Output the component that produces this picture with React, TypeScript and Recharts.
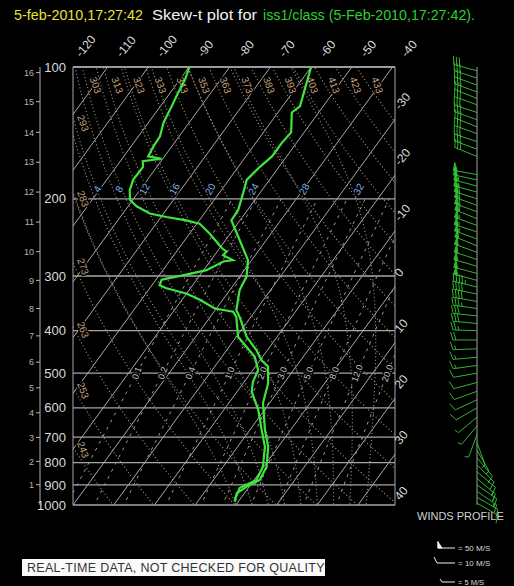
import React from 'react';
import { ComposedChart, Scatter, XAxis, YAxis, CartesianGrid, ReferenceLine } from 'recharts';

// skew of the isotherms: degrees C of shift per decade of pressure
const SKEW = 78.5;
const X_MIN = -40;
const X_MAX = 39.1;

const pressureTicks = [100, 200, 300, 400, 500, 600, 700, 800, 900, 1000];
const kmLevels = [1, 2, 3, 4, 5, 6, 7, 8, 9, 10, 11, 12, 13, 14, 15, 16];
const kmPressures = [899, 795, 701, 616, 540, 472, 411, 356, 307, 264, 226, 193, 165, 141, 120, 103];

const isotherms = [-120, -110, -100, -90, -80, -70, -60, -50, -40, -30, -20, -10, 0, 10, 20, 30, 40];
const topLabels = [-120, -110, -100, -90, -80, -70, -60, -50, -40];
const rightLabels = [-30, -20, -10, 0, 10, 20, 30, 40];
const dryAdiabats = [243, 253, 263, 273, 283, 293, 303, 313, 323, 333, 343, 353, 363, 373, 383, 393, 403, 413, 423, 433];
const moistAdiabats = [0, 4, 8, 12, 16, 20, 24, 28, 32];
const mixingRatios = [0.1, 0.2, 0.4, 1, 2, 3, 5, 8, 12, 20];

// sounding
const tempP = [100, 123, 127, 141, 149, 160, 169, 181, 194, 212, 224, 239, 276, 301, 323, 359, 372, 413, 443, 467, 483, 527, 585, 674, 736, 818, 877, 908, 940, 983];
const tempC = [-60.0, -55.7, -56.6, -53.2, -53.6, -53.6, -54.7, -55.6, -54.1, -52.3, -52.1, -48.6, -40.9, -38.3, -37.6, -34.8, -32.8, -27.5, -22.7, -19.7, -16.9, -13.9, -11.6, -6.3, -2.5, 0.7, 1.4, -0.6, -1.9, -0.8];
const dewP = [100, 107, 115, 123, 134, 144, 152, 160, 162, 164, 169, 181, 191, 201, 208, 216, 220, 224, 228, 240, 248, 259, 264, 269, 276, 278, 291, 299, 306, 315, 320, 329, 340, 356, 362, 372, 413, 459, 492, 523, 551, 607, 674, 736, 818, 877, 915, 974];
const dewC = [-89.9, -88.7, -88.0, -87.2, -86.3, -84.7, -84.5, -84.0, -80.3, -84.5, -83.4, -83.5, -82.5, -80.7, -77.9, -73.4, -68.7, -63.2, -59.3, -55.1, -52.7, -49.5, -47.7, -47.9, -44.6, -46.7, -49.3, -54.2, -58.6, -58.1, -55.9, -50.1, -45.6, -40.4, -35.3, -33.6, -29.6, -21.9, -18.7, -17.9, -16.4, -11.5, -7.1, -3.3, -0.2, 0.6, -2.1, -1.2];

// winds (m/s)
const windP = [102, 106, 110, 114, 118, 122, 127, 132, 137, 142, 148, 154, 160, 176, 181, 187, 193, 200, 207, 214, 222, 230, 238, 247, 256, 265, 275, 285, 296, 307, 318, 330, 343, 356, 370, 385, 400, 420, 440, 460, 480, 500, 525, 550, 575, 600, 630, 660, 690, 720, 750, 780, 810, 840, 870, 900, 930, 960, 990];
const windDir = [285, 288, 290, 290, 292, 290, 288, 290, 292, 290, 288, 290, 292, 280, 282, 285, 285, 288, 290, 290, 292, 290, 288, 290, 292, 290, 288, 286, 285, 285, 284, 282, 280, 278, 276, 275, 272, 270, 268, 265, 262, 260, 255, 250, 245, 240, 230, 220, 200, 160, 150, 140, 135, 130, 130, 125, 125, 120, 120];
const windSpd = [28, 30, 32, 30, 30, 32, 30, 28, 30, 32, 30, 28, 30, 50, 52, 55, 55, 58, 60, 60, 58, 55, 55, 55, 52, 52, 50, 50, 50, 48, 45, 40, 38, 35, 30, 28, 25, 18, 16, 15, 14, 12, 10, 10, 8, 8, 6, 5, 5, 5, 6, 8, 10, 12, 14, 15, 15, 12, 10];

const skewX = (t: number, p: number) => t + SKEW * Math.log10(1000 / p);

const P_STEPS: number[] = [];
for (let p = 1050; p >= 100; p -= 10) P_STEPS.push(p);

const isothermLines = isotherms.map((t) => [
  { x: skewX(t, 1050), p: 1050 },
  { x: skewX(t, 100), p: 100 },
]);

const dryT = (th: number, p: number) => th * Math.pow(p / 1000, 0.2857) - 273.15;
const dryLines = dryAdiabats.map((th) => P_STEPS.map((p) => ({ x: skewX(dryT(th, p), p), p })));

const Rd = 287.04, CP = 1005.7, LV = 2.501e6, EPS = 0.622;
function dTdp(T: number, p: number) {
  const es = 6.112 * Math.exp((17.67 * (T - 273.15)) / (T - 29.65));
  const rs = (EPS * es) / (p - es);
  return (Rd * T + LV * rs) / (p * (CP + (LV * LV * rs * EPS) / (Rd * T * T)));
}
function moistLine(tw: number) {
  const up: { x: number; p: number }[] = [];
  let T = tw + 273.15;
  let p = 1000;
  while (p >= 100) {
    up.push({ x: skewX(T - 273.15, p), p });
    const dp = -5;
    const k1 = dTdp(T, p);
    const k2 = dTdp(T + (k1 * dp) / 2, p + dp / 2);
    T += k2 * dp;
    p += dp;
  }
  const down: { x: number; p: number }[] = [];
  T = tw + 273.15;
  p = 1000;
  while (p < 1050) {
    const dp = 5;
    const k1 = dTdp(T, p);
    const k2 = dTdp(T + (k1 * dp) / 2, p + dp / 2);
    T += k2 * dp;
    p += dp;
    down.unshift({ x: skewX(T - 273.15, p), p });
  }
  return [...down, ...up];
}
const moistLines = moistAdiabats.map(moistLine);

const mixTd = (w: number, p: number) => {
  const e = (w * p) / (622 + w);
  const l = Math.log(e / 6.112);
  return (243.5 * l) / (17.67 - l);
};
const mixLines = mixingRatios.map((w) =>
  [1050, 900, 800, 700, 600, 500, 400, 300, 200].map((p) => ({ x: skewX(mixTd(w, p), p), p }))
);

// labels inside the diagram
type Lbl = { x: number; p: number; text: string; color: string; angle: number; size: number };
const labels: Lbl[] = [];
dryAdiabats.forEach((th) => {
  const xTop = skewX(dryT(th, 110), 110);
  if (xTop >= -37.5) {
    if (xTop + 2.2 < X_MAX - 1) labels.push({ x: xTop + 2.2, p: 110, text: String(th), color: '#c9a27e', angle: 70, size: 10 });
    return;
  }
  let lo = 100, hi = 1000;
  if (skewX(dryT(th, hi), hi) < -39.6) return;
  for (let i = 0; i < 40; i++) {
    const mid = (lo + hi) / 2;
    if (skewX(dryT(th, mid), mid) < -39.6) lo = mid;
    else hi = mid;
  }
  labels.push({ x: -37.5, p: Math.max(hi, 112), text: String(th), color: '#c9a27e', angle: 70, size: 10 });
});
moistAdiabats.forEach((tw, i) => {
  if (tw === 0) return;
  const pt = moistLines[i].reduce((a, b) => (Math.abs(b.p - 190) < Math.abs(a.p - 190) ? b : a));
  labels.push({ x: pt.x + 1.5, p: 190, text: String(tw), color: '#7db3e0', angle: -60, size: 10 });
});
mixingRatios.forEach((w) => {
  labels.push({ x: skewX(mixTd(w, 500), 500), p: 500, text: w.toFixed(1), color: '#c8c8c8', angle: -70, size: 9 });
});

const tempLine = tempP.map((p, i) => ({ x: skewX(tempC[i], p), p }));
const dewLine = dewP.map((p, i) => ({ x: skewX(dewC[i], p), p }));
const windTable = windP.map((p, i) => ({ x: 0, p, dir: windDir[i], spd: windSpd[i] }));

const topTicks = topLabels.map((t) => t + SKEW);
const rightTicks = rightLabels.map((t) => 1000 * Math.pow(10, -(X_MAX - t) / SKEW));

const Nothing = () => <g />;

const LabelShape = (props: any) => {
  const { cx, cy } = props;
  const d = props.payload ?? props;
  return (
    <text
      x={cx}
      y={cy}
      fill={d.color}
      fontSize={d.size}
      textAnchor="middle"
      dominantBaseline="central"
      transform={`rotate(${d.angle} ${cx} ${cy})`}
      stroke="#000"
      strokeWidth={3}
      paintOrder="stroke"
    >
      {d.text}
    </text>
  );
};

const TopTick = (props: any) => {
  const { x, payload } = props;
  const t = Math.round(payload.value - SKEW);
  const sx = x + 14;
  const sy = 58;
  return (
    <text x={sx} y={sy} fill="#dcdcdc" fontSize={12} transform={`rotate(-50 ${sx} ${sy})`}>
      {t}
    </text>
  );
};

const RightTick = (props: any) => {
  const { y, payload } = props;
  const t = Math.round((X_MAX - SKEW * Math.log10(1000 / payload.value)) / 10) * 10;
  const sx = 400;
  const sy = y - 9;
  return (
    <text x={sx} y={sy} fill="#dcdcdc" fontSize={12} transform={`rotate(-50 ${sx} ${sy})`}>
      {t}
    </text>
  );
};

const Barb = (props: any) => {
  const { cx, cy } = props;
  const d = props.payload ?? props;
  const a = (d.dir * Math.PI) / 180;
  const ux = Math.sin(a);
  const uy = -Math.cos(a);
  const px = -uy;
  const py = ux;
  const L = 24;
  const parts: React.ReactNode[] = [];
  parts.push(<line key="s" x1={cx} y1={cy} x2={cx + ux * L} y2={cy + uy * L} />);
  let spd = Math.round(d.spd / 5) * 5;
  let pos = L;
  let k = 0;
  while (spd >= 50) {
    const b1x = cx + ux * pos, b1y = cy + uy * pos;
    const b2x = cx + ux * (pos - 4), b2y = cy + uy * (pos - 4);
    parts.push(
      <polygon key={'f' + k++} points={`${b1x},${b1y} ${b2x},${b2y} ${b1x + px * 8},${b1y + py * 8}`} fill="#37c837" />
    );
    pos -= 5;
    spd -= 50;
  }
  while (spd >= 10) {
    const bx = cx + ux * pos, by = cy + uy * pos;
    parts.push(<line key={'b' + k++} x1={bx} y1={by} x2={bx + px * 8 + ux * 2.5} y2={by + py * 8 + uy * 2.5} />);
    pos -= 3;
    spd -= 10;
  }
  if (spd >= 5) {
    const bx = cx + ux * pos, by = cy + uy * pos;
    parts.push(<line key={'h' + k++} x1={bx} y1={by} x2={bx + px * 4 + ux * 1.2} y2={by + py * 4 + uy * 1.2} />);
  }
  return (
    <g stroke="#37c837" strokeWidth={1} opacity={0.9}>
      {parts}
    </g>
  );
};

export default function App() {
  return (
    <div
      style={{
        position: 'absolute',
        left: 0,
        top: 0,
        width: 514,
        height: 586,
        background: '#000',
        overflow: 'hidden',
        fontFamily: '"Liberation Sans", Arial, sans-serif',
      }}
    >
      <div style={{ position: 'absolute', left: 0, top: 0 }}>
        <ComposedChart width={514} height={586} margin={{ top: 37, right: 89, bottom: 81, left: 0 }}>
          <CartesianGrid vertical={false} stroke="#a6a6a6" strokeWidth={1.3} />
          <XAxis
            xAxisId={0}
            orientation="top"
            type="number"
            dataKey="x"
            domain={[X_MIN, X_MAX]}
            allowDataOverflow
            ticks={topTicks}
            interval={0}
            height={30}
            axisLine={false}
            tickLine={false}
            tick={TopTick}
          />
          <YAxis
            yAxisId={0}
            type="number"
            dataKey="p"
            scale="log"
            domain={[100, 1000]}
            reversed
            allowDataOverflow
            ticks={pressureTicks}
            interval={0}
            width={33}
            axisLine={{ stroke: '#a6a6a6' }}
            tickLine={false}
            tickMargin={1}
            tick={{ fill: '#dadada', fontSize: 13 }}
          />
          <YAxis
            yAxisId="km"
            type="number"
            scale="log"
            domain={[100, 1000]}
            reversed
            allowDataOverflow
            ticks={kmPressures}
            interval={0}
            width={40}
            tickSize={4}
            axisLine={{ stroke: '#b4b4b4' }}
            tickLine={{ stroke: '#b4b4b4' }}
            tick={{ fill: '#b4b4b4', fontSize: 9 }}
            tickFormatter={(v: number) => {
              const i = kmPressures.indexOf(v);
              return i >= 0 ? String(kmLevels[i]) : '';
            }}
          />
          <YAxis
            yAxisId="tr"
            orientation="right"
            type="number"
            scale="log"
            domain={[100, 1000]}
            reversed
            allowDataOverflow
            ticks={rightTicks}
            interval={0}
            width={30}
            axisLine={{ stroke: '#a6a6a6' }}
            tickLine={false}
            tick={RightTick}
          />
          <ReferenceLine y={100} stroke="#a6a6a6" strokeWidth={1.3} />
          {isothermLines.map((d, i) => (
            <Scatter key={'it' + i} data={d} line={{ stroke: '#a8a8a8', strokeWidth: 1 }} shape={Nothing} isAnimationActive={false} legendType="none" />
          ))}
          {dryLines.map((d, i) => (
            <Scatter key={'da' + i} data={d} line={{ stroke: '#a88e70', strokeWidth: 1.2, strokeDasharray: '1 2.5' }} shape={Nothing} isAnimationActive={false} legendType="none" />
          ))}
          {moistLines.map((d, i) => (
            <Scatter key={'ma' + i} data={d} line={{ stroke: '#949494', strokeWidth: 1.2, strokeDasharray: '1 2.5' }} shape={Nothing} isAnimationActive={false} legendType="none" />
          ))}
          {mixLines.map((d, i) => (
            <Scatter key={'mr' + i} data={d} line={{ stroke: '#9a9a9a', strokeWidth: 1, strokeDasharray: '3 5' }} shape={Nothing} isAnimationActive={false} legendType="none" />
          ))}
          <Scatter data={labels} shape={LabelShape} isAnimationActive={false} legendType="none" />
          <Scatter data={dewLine} line={{ stroke: '#3fe43f', strokeWidth: 2.2 }} shape={Nothing} isAnimationActive={false} legendType="none" />
          <Scatter data={tempLine} line={{ stroke: '#3fe43f', strokeWidth: 2.2 }} shape={Nothing} isAnimationActive={false} legendType="none" />
        </ComposedChart>
      </div>

      <div style={{ position: 'absolute', left: 430, top: 0 }}>
        <ComposedChart width={84} height={586} margin={{ top: 67, right: 0, bottom: 81, left: 0 }}>
          <XAxis type="number" dataKey="x" domain={[-47, 37]} hide />
          <YAxis type="number" dataKey="p" scale="log" domain={[100, 1000]} reversed hide />
          <ReferenceLine x={0} stroke="#a0a0a0" strokeWidth={1} />
          <Scatter data={windTable} shape={Barb} isAnimationActive={false} legendType="none" />
        </ComposedChart>
      </div>

      <svg width={514} height={586} style={{ position: 'absolute', left: 0, top: 0, pointerEvents: 'none' }}>
        <text x={14} y={20} fontSize={14} fill="#e6e23a" textLength={129} lengthAdjust="spacingAndGlyphs">5-feb-2010,17:27:42</text>
        <text x={152} y={20} fontSize={14} fill="#f2f2f2" textLength={105} lengthAdjust="spacingAndGlyphs">Skew-t plot for</text>
        <text x={263} y={20} fontSize={14} fill="#2fcf2f" textLength={212} lengthAdjust="spacingAndGlyphs">iss1/class (5-Feb-2010,17:27:42).</text>

        <text x={417} y={520} fontSize={11} fill="#d0d0d0">WINDS PROFILE</text>
        <g stroke="#f0f0f0" strokeWidth={1} fill="none">
          <path d="M438 541 L438 548 L455 548" />
          <polygon points="438,542 438,548 442,548" fill="#f0f0f0" />
          <path d="M434 557 L437 563 L455 563" />
          <path d="M440 579 L442 582 L455 582" />
        </g>
        <text x={458} y={551} fontSize={8} fill="#dcdcdc">= 50 M/S</text>
        <text x={458} y={566} fontSize={8} fill="#dcdcdc">= 10 M/S</text>
        <text x={458} y={585} fontSize={7.5} fill="#dcdcdc">= 5 M/S</text>

        <rect x={22} y={559} width={303} height={17} fill="#fafafa" />
        <text x={27} y={572} fontSize={12.5} fill="#333" letterSpacing={0.3}>REAL-TIME DATA, NOT CHECKED FOR QUALITY</text>
      </svg>
    </div>
  );
}
